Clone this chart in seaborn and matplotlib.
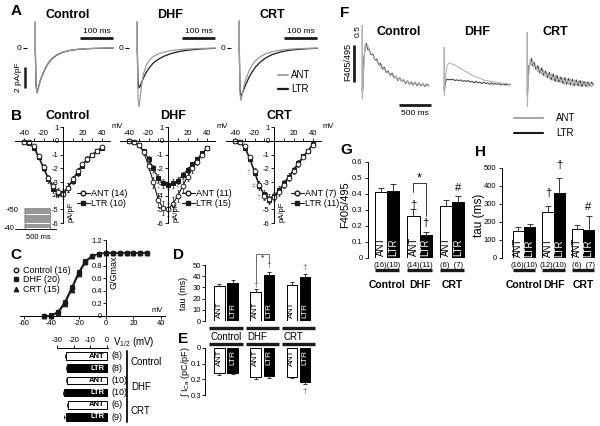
import numpy as np
import pandas as pd
import matplotlib
matplotlib.use("Agg")
import matplotlib.pyplot as plt
from matplotlib.lines import Line2D
import seaborn as sns

groups = ["Control", "DHF", "CRT"]
conds = ["ANT", "LTR"]

# ---------------- A: current traces (ms, pA/pF) ----------------
tA = [0, 0.5, 1.5, 3, 6, 10, 15, 20, 30, 40, 50, 65, 80, 100, 125, 150, 180, 210, 235]
a_ctrl_ant = [0, 2.5, -1.0, -3.6, -4.3, -3.8, -3.2, -2.7, -1.95, -1.4, -1.0, -0.65, -0.42, -0.25, -0.13, -0.07, -0.03, -0.01, 0]
a_ctrl_ltr = [0, 0, -1.0, -3.5, -4.25, -3.8, -3.2, -2.75, -2.0, -1.45, -1.05, -0.68, -0.44, -0.26, -0.14, -0.08, -0.04, -0.02, 0]
a_dhf_ant = [0, 2.5, -1.5, -4.8, -5.6, -4.6, -3.3, -2.4, -1.5, -1.05, -0.8, -0.55, -0.4, -0.27, -0.16, -0.1, -0.06, -0.03, -0.01]
a_dhf_ltr = [0, 0, -1.0, -3.2, -3.8, -3.6, -3.2, -2.8, -2.2, -1.75, -1.4, -1.05, -0.8, -0.55, -0.35, -0.22, -0.12, -0.06, -0.03]
a_crt_ant = [0, 2.6, -1.5, -4.4, -5.0, -4.4, -3.6, -3.0, -2.2, -1.6, -1.2, -0.8, -0.55, -0.35, -0.2, -0.12, -0.06, -0.03, -0.01]
a_crt_ltr = [0, 0, -1.2, -4.0, -4.6, -4.3, -3.9, -3.5, -2.8, -2.25, -1.8, -1.3, -0.95, -0.62, -0.38, -0.22, -0.12, -0.06, -0.03]

# ---------------- B: I-V curves ----------------
V = [-40, -35, -30, -25, -20, -15, -10, -5, 0, 5, 10, 15, 20, 25, 30, 35, 40]
iv_ctrl_ant = [-0.05, -0.1, -0.4, -1.1, -1.9, -2.7, -3.3, -3.7, -3.9, -3.4, -2.8, -2.2, -1.7, -1.3, -1.0, -0.7, -0.45]
iv_ctrl_ltr = [-0.05, -0.15, -0.5, -1.2, -2.0, -2.8, -3.5, -3.8, -3.8, -3.4, -2.9, -2.3, -1.8, -1.35, -1.0, -0.75, -0.5]
iv_dhf_ant = [0, -0.1, -0.3, -0.8, -1.8, -3.0, -4.3, -4.9, -5.0, -4.6, -4.0, -3.3, -2.6, -2.0, -1.5, -1.0, -0.5]
iv_dhf_ltr = [0, -0.1, -0.3, -0.7, -1.3, -2.0, -2.7, -3.1, -3.2, -3.1, -2.9, -2.5, -2.1, -1.7, -1.3, -0.9, -0.5]
iv_crt_ant = [0, -0.1, -0.4, -1.2, -2.2, -3.2, -4.0, -4.2, -4.1, -3.7, -3.2, -2.7, -2.2, -1.7, -1.2, -0.7, -0.3]
iv_crt_ltr = [0, -0.1, -0.5, -1.3, -2.3, -3.3, -3.9, -4.3, -4.0, -3.6, -3.1, -2.6, -2.1, -1.6, -1.1, -0.7, -0.2]
iv_err = [0.02, 0.05, 0.1, 0.15, 0.2, 0.25, 0.3, 0.3, 0.3, 0.3, 0.25, 0.25, 0.2, 0.2, 0.15, 0.15, 0.1]
iv_err_big = [0.02, 0.05, 0.1, 0.2, 0.3, 0.4, 0.5, 0.5, 0.5, 0.5, 0.45, 0.4, 0.35, 0.3, 0.25, 0.2, 0.15]
iv_n_ant = [14, 11, 7]
iv_n_ltr = [10, 15, 11]
protocol_steps = [-30, -20, -10, 0, 10, 20, 30, 40, 50]

# ---------------- C: activation ----------------
V_act = [-45, -40, -35, -30, -25, -20, -15, -10, -5, 0, 5, 10, 15, 20, 25, 30]
g_ctrl = [0.0, 0.0, 0.06, 0.21, 0.44, 0.68, 0.86, 0.95, 0.99, 1.0, 1.0, 1.0, 1.0, 1.0, 1.0, 1.0]
g_dhf = [0.0, 0.01, 0.07, 0.23, 0.46, 0.70, 0.88, 0.96, 0.99, 1.0, 1.0, 1.0, 1.0, 1.0, 1.0, 1.0]
g_crt = [0.0, 0.0, 0.05, 0.19, 0.42, 0.66, 0.85, 0.95, 0.99, 1.0, 1.0, 1.0, 1.0, 1.0, 1.0, 1.0]
c_labels = ["Control (16)", "DHF (20)", "CRT (15)"]
vhalf = [-24.6, -24.0, -23.8, -25.8, -23.5, -25.0]
vhalf_err = [0.7, 0.6, 0.7, 0.9, 0.6, 0.8]
vhalf_n = [8, 8, 10, 10, 6, 9]

# ---------------- D / E ----------------
tau_ant = [31, 26, 32]
tau_ltr = [34, 41, 39]
tau_ant_err = [2, 2.5, 2.5]
tau_ltr_err = [2.5, 2.5, 3]
q_ant = [0.16, 0.185, 0.183]
q_ltr = [0.157, 0.18, 0.215]
q_ant_err = [0.01, 0.01, 0.01]
q_ltr_err = [0.01, 0.01, 0.012]

# ---------------- F: Ca transients ----------------
tF = [0, 3, 6, 15, 30, 50, 70, 90, 110, 140, 170, 200, 230, 260, 290, 320, 350, 380, 410, 440,
      470, 500, 530, 560, 590, 620, 650, 680, 710, 740, 770, 800, 830, 860, 890, 920, 950, 980, 1010, 1040]
f_ctrl_ant = [0, 0.85, -0.15, 0.05, 0.35, 0.6, 0.56, 0.58, 0.5,
              0.47, 0.44, 0.38, 0.37, 0.31, 0.3, 0.25, 0.26, 0.2, 0.22,
              0.17, 0.18, 0.13, 0.16, 0.11, 0.13, 0.09, 0.12, 0.07, 0.1,
              0.06, 0.09, 0.05, 0.08, 0.04, 0.07, 0.04, 0.06, 0.03, 0.06, 0.04]
f_ctrl_ltr = [0, 0.0, -0.08, 0.02, 0.4, 0.55, 0.6, 0.52, 0.53,
              0.45, 0.46, 0.38, 0.39, 0.32, 0.33, 0.26, 0.28, 0.21, 0.23,
              0.17, 0.2, 0.14, 0.16, 0.1, 0.14, 0.09, 0.11, 0.06, 0.1,
              0.05, 0.08, 0.04, 0.08, 0.03, 0.07, 0.03, 0.06, 0.02, 0.05, 0.03]
f_dhf_ant = [0, 0.55, -0.1, 0.05, 0.2, 0.3, 0.33, 0.34, 0.33,
             0.32, 0.31, 0.29, 0.28, 0.26, 0.25, 0.23, 0.22, 0.2, 0.19,
             0.17, 0.16, 0.15, 0.14, 0.13, 0.12, 0.11, 0.1, 0.1, 0.09,
             0.09, 0.08, 0.08, 0.07, 0.07, 0.07, 0.06, 0.06, 0.06, 0.05, 0.05]
f_dhf_ltr = [0, 0, -0.05, 0.03, 0.1, 0.12, 0.11, 0.12, 0.11,
             0.12, 0.1, 0.11, 0.1, 0.11, 0.09, 0.1, 0.09, 0.1, 0.08,
             0.09, 0.07, 0.09, 0.07, 0.08, 0.06, 0.08, 0.06, 0.07, 0.05,
             0.07, 0.05, 0.06, 0.05, 0.06, 0.04, 0.06, 0.04, 0.05, 0.04, 0.05]
f_crt_ant = [0, 0.75, -0.25, 0.0, 0.25, 0.38, 0.3, 0.36, 0.28,
             0.3, 0.22, 0.27, 0.18, 0.24, 0.15, 0.2, 0.12, 0.19, 0.1,
             0.17, 0.08, 0.15, 0.07, 0.14, 0.05, 0.13, 0.05, 0.12, 0.03,
             0.11, 0.04, 0.1, 0.02, 0.1, 0.03, 0.09, 0.01, 0.08, 0.02, 0.06]
f_crt_ltr = [0, 0, -0.1, 0.05, 0.3, 0.33, 0.4, 0.3, 0.35,
             0.25, 0.3, 0.2, 0.27, 0.17, 0.23, 0.14, 0.21, 0.11, 0.19,
             0.09, 0.17, 0.08, 0.15, 0.06, 0.14, 0.05, 0.13, 0.04, 0.12,
             0.03, 0.11, 0.03, 0.1, 0.02, 0.09, 0.02, 0.08, 0.03, 0.08, 0.04]

# ---------------- G / H ----------------
amp_ant = [0.41, 0.26, 0.325]
amp_ltr = [0.42, 0.145, 0.35]
amp_ant_err = [0.03, 0.045, 0.04]
amp_ltr_err = [0.04, 0.015, 0.04]
amp_n = ["(16)(10)", "(14)(11)", "(6)  (7)"]
dec_ant = [150, 255, 160]
dec_ltr = [172, 360, 158]
dec_ant_err = [22, 35, 22]
dec_ltr_err = [15, 85, 75]
dec_n = ["(16)(10)", "(12)(10)", "(6)  (7)"]

# ================= drawing =================
sns.set_theme(style="white")
plt.rcParams["font.family"] = ["Liberation Sans", "DejaVu Sans"]
plt.rcParams["mathtext.fontset"] = "custom"
plt.rcParams["mathtext.rm"] = "Liberation Sans"
plt.rcParams["mathtext.it"] = "Liberation Sans:italic"
plt.rcParams["axes.linewidth"] = 0.7
plt.rcParams["axes.edgecolor"] = "black"
plt.rcParams["text.color"] = "black"
plt.rcParams["xtick.color"] = "black"
plt.rcParams["ytick.color"] = "black"

W, H = 600, 426
fig = plt.figure(figsize=(6, 4.26), dpi=100)
pal = {"ANT": "white", "LTR": "black"}
GRAY = "#9a9a9a"
DARK = "#1a1a1a"


def mk(L, T, R, B):
    ax = fig.add_axes([L / W, 1 - B / H, (R - L) / W, (B - T) / H])
    ax.patch.set_alpha(0)
    return ax


def lim(ax, L, T, R, B, x0, sx, y0, sy):
    ax.set_xlim((L - x0) / sx, (R - x0) / sx)
    ax.set_ylim((y0 - B) / sy, (y0 - T) / sy)


def ft(x, y, s, size=7, ha="center", va="center", **kw):
    fig.text(x / W, 1 - y / H, s, size=size, ha=ha, va=va, **kw)


def fl(xs, ys, **kw):
    fig.add_artist(Line2D([x / W for x in xs], [1 - y / H for y in ys], transform=fig.transFigure, **kw))


def clean(ax):
    ax.set_xlabel("")
    ax.set_ylabel("")


# panel letters
for s, x, y in [("A", 16, 11), ("B", 16, 116), ("C", 16, 255), ("D", 178, 255), ("E", 183, 339),
                ("F", 345, 13), ("G", 346, 150), ("H", 481, 152)]:
    ft(x, y, s, size=11, weight="bold")

# ---------------- A ----------------
A_data = [(a_ctrl_ant, a_ctrl_ltr), (a_dhf_ant, a_dhf_ltr), (a_crt_ant, a_crt_ltr)]
A_x0 = [35, 137, 239]
for k, (g, x0, (ant, ltr)) in enumerate(zip(groups, A_x0, A_data)):
    L, T, R, B = x0 - 8, 15, x0 + 80, 112
    ax = mk(L, T, R, B)
    n = len(tA)
    df = pd.DataFrame({"t": tA * 2, "I": list(ltr) + list(ant), "cond": ["LTR"] * n + ["ANT"] * n})
    sns.lineplot(data=df, x="t", y="I", hue="cond", hue_order=["LTR", "ANT"],
                 palette={"ANT": GRAY, "LTR": DARK}, lw=0.9, legend=False, ax=ax,
                 sort=False, estimator=None)
    clean(ax)
    lim(ax, L, T, R, B, x0, 0.333, 48, 10.5)
    for sp in ax.spines.values():
        sp.set_visible(False)
    ax.set_xticks([])
    ax.set_yticks([0])
    ax.set_yticklabels(["0"])
    ax.tick_params(axis="y", left=True, length=3, width=0.8, labelsize=6, pad=1)
    ax.plot([135, 235], [0.95, 0.95], color="k", lw=2, clip_on=False, solid_capstyle="butt")
    ax.text(185, 1.25, "100 ms", ha="center", va="bottom", size=6)
    ft(x0 + 33, 15, g, size=9, weight="bold")
    if k == 0:
        ax.plot([-30, -30], [-1.8, -3.8], color="k", lw=1.8, clip_on=False, solid_capstyle="butt")
        ft(19, 77, "2 pA/pF", size=6, rotation=90)
fl([278, 288], [75, 75], color=GRAY, lw=1.3)
fl([278, 288], [89, 89], color=DARK, lw=1.6)
ft(291, 75, "ANT", size=7, ha="left")
ft(291, 89, "LTR", size=7, ha="left")

# ---------------- B ----------------
B_data = [(iv_ctrl_ant, iv_ctrl_ltr, iv_err), (iv_dhf_ant, iv_dhf_ltr, iv_err_big), (iv_crt_ant, iv_crt_ltr, iv_err)]
B_x0 = [63, 168, 274]
for k, (g, x0, (ant, ltr, ea)) in enumerate(zip(groups, B_x0, B_data)):
    L, T, R, B = x0 - 48, 122, x0 + 47, 228
    ax = mk(L, T, R, B)
    ax.errorbar(V, ant, yerr=ea, fmt="none", ecolor="k", elinewidth=0.5, capsize=1, capthick=0.5)
    ax.errorbar(V, ltr, yerr=iv_err, fmt="none", ecolor="k", elinewidth=0.5, capsize=1, capthick=0.5)
    sns.lineplot(x=V, y=ltr, marker="s", color="k", markerfacecolor="k", markeredgecolor="k",
                 markersize=3.2, lw=0.8, ax=ax, estimator=None, sort=False)
    sns.lineplot(x=V, y=ant, marker="o", color="k", markerfacecolor="white", markeredgecolor="k",
                 markeredgewidth=0.7, markersize=3.4, lw=0.8, ax=ax, estimator=None, sort=False)
    clean(ax)
    lim(ax, L, T, R, B, x0, 0.975, 141, 13.7)
    ax.spines["top"].set_position(("data", 0))
    ax.spines["left"].set_position(("data", 0))
    ax.spines["bottom"].set_visible(False)
    ax.spines["right"].set_visible(False)
    ax.spines["left"].set_bounds(-6, 1)
    ax.xaxis.set_ticks_position("top")
    ax.set_xticks([-40, -30, -20, -10, 10, 20, 30, 40])
    ax.set_xticklabels(["-40", "", "-20", "", "", "20", "", "40"])
    ax.set_yticks([1, 0, -1, -2, -3, -4, -5, -6])
    ax.set_yticklabels(["1", "0", "-1", "-2", "-3", "-4", "-5", "-6"])
    ax.tick_params(length=2, width=0.6, labelsize=5.5, pad=1)
    ax.tick_params(axis="x", top=True, bottom=False)
    ax.tick_params(axis="y", left=True)
    ft(x0 + 49, 127, "mV", size=5.5, ha="left")
    ft(x0 + 8, 212, "pA/pF", size=5.5, rotation=90)
    ft(x0 + 5, 116, g, size=9, weight="bold")
    hs = [Line2D([], [], marker="o", color="k", markerfacecolor="white", markersize=3.4, lw=0.8),
          Line2D([], [], marker="s", color="k", markersize=3.2, lw=0.8)]
    ax.legend(hs, [f"ANT ({iv_n_ant[k]})", f"LTR ({iv_n_ltr[k]})"], loc="upper left",
              bbox_to_anchor=((x0 + 14 + (3 if k == 2 else 0)) / W, 1 - 189 / H),
              bbox_transform=fig.transFigure, frameon=False, fontsize=6.5, handlelength=1.4,
              handletextpad=0.2, labelspacing=0.1, borderpad=0, borderaxespad=0)
    if k == 1:
        for i in [4, 5, 6, 10, 11]:
            ax.text(V[i], (ant[i] + ltr[i]) / 2, "*", color="#888888", size=6, ha="center", va="center")
    if k == 2:
        for i in [4, 5, 6]:
            ax.text(V[i] - 6, ant[i] - 0.1, "\u2020" if i % 2 == 0 else "#", color="#888888", size=5, ha="center", va="center")

# protocol inset
axp = mk(15, 205, 57, 232)
for s in protocol_steps:
    axp.plot([0, 500], [s, s], color="#8c8c8c", lw=1.3)
axp.plot([0, 0], [-40, 50], color="#8c8c8c", lw=0.8)
axp.plot([500, 500], [-40, 50], color="#8c8c8c", lw=0.8)
axp.plot([-200, 640], [-40, -40], color="k", lw=0.7)
lim(axp, 15, 205, 57, 232, 25, 0.05, 220.1, 0.222)
axp.axis("off")
ft(12, 210, "+50", size=5.5)
ft(9, 229, "-40", size=5.5)
ft(38, 237, "500 ms", size=5.5)

# ---------------- C ----------------
L, T, R, B = 20, 232, 165, 320
axc = mk(L, T, R, B)
for gv, mkr, mfc, ms in [(g_ctrl, "o", "white", 3.4), (g_dhf, "s", "k", 3.0), (g_crt, "^", "k", 3.4)]:
    sns.lineplot(x=V_act, y=gv, marker=mkr, color="k", markerfacecolor=mfc, markeredgecolor="k",
                 markeredgewidth=0.7, markersize=ms, lw=0.8, ax=axc, estimator=None, sort=False)
clean(axc)
lim(axc, L, T, R, B, 106, 1.37, 316, 63)
for line in axc.lines:
    line.set_clip_on(False)
axc.spines["bottom"].set_position(("data", 0))
axc.spines["left"].set_position(("data", 0))
axc.spines["top"].set_visible(False)
axc.spines["right"].set_visible(False)
axc.spines["left"].set_bounds(0, 1.2)
axc.set_xticks([-60, -40, -20, 0, 20, 40])
axc.set_xticklabels(["-60", "-40", "-20", "0", "20", "40"])
axc.set_yticks([0, 0.2, 0.4, 0.6, 0.8, 1.0, 1.2])
axc.set_yticklabels(["0", "0.2", "0.4", "0.6", "0.8", "", "1.2"])
axc.tick_params(length=2, width=0.6, labelsize=5.5, pad=1)
axc.tick_params(axis="x", bottom=True)
axc.tick_params(axis="y", left=True)
ft(157, 311, "mV", size=5.5)
ft(114, 272, "G/Gmax", size=6.5, rotation=90)
hc = [Line2D([], [], marker="o", color="k", markerfacecolor="white", markersize=3.2, lw=0),
      Line2D([], [], marker="s", color="k", markersize=3.0, lw=0),
      Line2D([], [], marker="^", color="k", markersize=3.2, lw=0)]
axc.legend(hc, c_labels, loc="upper left", bbox_to_anchor=(12 / W, 1 - 266 / H),
           bbox_transform=fig.transFigure, frameon=False, fontsize=6.5, handlelength=0.8,
           handletextpad=0.4, labelspacing=0.05, borderpad=0, borderaxespad=0)

# V1/2 bars
rows = [f"{g} {c}" for g in groups for c in conds]
row_cond = [c for g in groups for c in conds]
L, T, R, B = 57, 348, 108, 423
axv = mk(L, T, R, B)
dfv = pd.DataFrame({"row": rows, "val": vhalf, "cond": row_cond})
sns.barplot(data=dfv, x="val", y="row", hue="cond", order=rows, hue_order=conds, palette=pal,
            dodge=False, orient="h", edgecolor="black", linewidth=0.7, width=0.62,
            errorbar=None, legend=False, ax=axv)
axv.errorbar(vhalf, range(6), xerr=[vhalf_err, [0] * 6], fmt="none", ecolor="k",
             elinewidth=0.6, capsize=1.5, capthick=0.6)
clean(axv)
lim(axv, L, T, R, B, 106.5, 1.64, 356, -12.2)
for sp in ["bottom", "left", "right"]:
    axv.spines[sp].set_visible(False)
axv.xaxis.set_ticks_position("top")
axv.set_xticks([-30, -20, -10, 0])
axv.set_xticklabels(["-30", "-20", "-10", "0"])
axv.set_yticks([])
axv.tick_params(axis="x", top=True, length=2, width=0.6, labelsize=5.5, pad=1)
for i, (c, n) in enumerate(zip(row_cond, vhalf_n)):
    axv.text(-1.2, i, c, ha="right", va="center", size=5.5, weight="bold",
             color="black" if c == "ANT" else "white")
    axv.text(3.3, i, f"({n})", ha="left", va="center", size=6.5)
for k, g in enumerate(groups):
    axv.plot([12.5, 12.5], [2 * k - 0.45, 2 * k + 1.45], color="k", lw=1.4, clip_on=False)
    axv.text(14.8, 2 * k + 0.5, g, ha="left", va="center", size=7)
ft(113, 342, r"V$_{1/2}$ (mV)", size=7, ha="left")


# ---------------- bar helpers ----------------
def bar_df(ant, ltr):
    return pd.DataFrame({"group": groups * 2, "cond": ["ANT"] * 3 + ["LTR"] * 3, "val": list(ant) + list(ltr)})


def draw_bars(ax, ant, ltr, ea, el, width, gap, off, cap):
    sns.barplot(data=bar_df(ant, ltr), x="group", y="val", hue="cond", order=groups, hue_order=conds,
                palette=pal, edgecolor="black", linewidth=0.7, width=width, gap=gap,
                errorbar=None, legend=False, ax=ax)
    xs = [i - off for i in range(3)] + [i + off for i in range(3)]
    ys = list(ant) + list(ltr)
    es = list(ea) + list(el)
    ax.errorbar(xs, ys, yerr=[[0] * 6, es], fmt="none", ecolor="k", elinewidth=0.6,
                capsize=cap, capthick=0.6)
    clean(ax)
    ax.set_xticks([])
    return xs


# ---------------- D ----------------
L, T, R, B = 205, 262, 318, 321
axd = mk(L, T, R, B)
xs = draw_bars(axd, tau_ant, tau_ltr, tau_ant_err, tau_ltr_err, 0.72, 0.2, 0.18, 1.5)
lim(axd, L, T, R, B, 226, 36.2, 321, 1.12)
for sp in ["bottom", "top", "right"]:
    axd.spines[sp].set_visible(False)
axd.spines["left"].set_bounds(0, 50)
axd.set_yticks([0, 10, 20, 30, 40, 50])
axd.tick_params(axis="y", left=True, length=2, width=0.6, labelsize=5.5, pad=1)
for i in range(3):
    axd.text(i - 0.18, 3, "ANT", rotation=90, ha="center", va="bottom", size=6)
    axd.text(i + 0.18, 3, "LTR", rotation=90, ha="center", va="bottom", size=6, color="white")
    axd.plot([i - 0.46, i + 0.46], [-6.3, -6.3], color="k", lw=2.4, clip_on=False, solid_capstyle="butt")
    axd.plot([i - 0.46, i + 0.46], [-20.5, -20.5], color="k", lw=2.4, clip_on=False, solid_capstyle="butt")
    axd.text(i - 0.42, -14, groups[i], ha="left", va="center", size=7)
axd.text(1 - 0.18, tau_ant[1] + tau_ant_err[1] + 3, "\u2020", ha="center", va="center", size=6, color="#555555")
axd.text(1 + 0.18, tau_ltr[1] + tau_ltr_err[1] + 6, "\u2020", ha="center", va="center", size=6, color="#555555")
axd.text(2 + 0.18, tau_ltr[2] + tau_ltr_err[2] + 6, "\u2020", ha="center", va="center", size=6, color="#555555")
axd.plot([1 - 0.18, 1 - 0.18, 1 + 0.18, 1 + 0.18], [35, 60, 60, 52], color="#555555", lw=0.6, clip_on=False)
axd.text(1, 56, "*", ha="center", va="center", size=6)
ft(183, 293, "tau (ms)", size=6.5, rotation=90)

# ---------------- E ----------------
L, T, R, B = 205, 348, 318, 396
axe = mk(L, T, R, B)
draw_bars(axe, q_ant, q_ltr, q_ant_err, q_ltr_err, 0.72, 0.2, 0.18, 1.5)
lim(axe, L, T, R, B, 226, 36.2, 348, -157)
for sp in ["bottom", "top", "right"]:
    axe.spines[sp].set_visible(False)
axe.spines["left"].set_bounds(0, 0.3)
axe.set_yticks([0, 0.1, 0.2, 0.3])
axe.set_yticklabels(["0", "0.1", "0.2", "0.3"])
axe.tick_params(axis="y", left=True, length=2, width=0.6, labelsize=5.5, pad=1)
for i in range(3):
    axe.text(i - 0.18, 0.01, "ANT", rotation=90, ha="center", va="top", size=6)
    axe.text(i + 0.18, 0.01, "LTR", rotation=90, ha="center", va="top", size=6, color="white")
axe.text(2 + 0.18, q_ltr[2] + q_ltr_err[2] + 0.05, "\u2020", ha="center", va="center", size=6, color="#555555")
ft(185, 372, r"$\int$ I$_{\rm Ca}$ (pC/pF)", size=6.5, rotation=90)

# ---------------- F ----------------
F_data = [(f_ctrl_ant, f_ctrl_ltr), (f_dhf_ant, f_dhf_ltr), (f_crt_ant, f_crt_ltr)]
F_x0 = [362, 444, 527]
for k, (g, x0, (ant, ltr)) in enumerate(zip(groups, F_x0, F_data)):
    L, T, R, B = x0 - 4, 20, x0 + 72, 112
    ax = mk(L, T, R, B)
    n = len(tF)
    df = pd.DataFrame({"t": tF * 2, "F": list(ltr) + list(ant), "cond": ["LTR"] * n + ["ANT"] * n})
    sns.lineplot(data=df, x="t", y="F", hue="cond", hue_order=["LTR", "ANT"],
                 palette={"ANT": "#b0b0b0", "LTR": "#404040"}, lw=0.75, legend=False, ax=ax,
                 sort=False, estimator=None)
    clean(ax)
    lim(ax, L, T, R, B, x0, 0.064, 88, 74)
    ax.axis("off")
    ft([399, 477, 555][k], 32, g, size=9, weight="bold")
    if k == 0:
        ax.plot([-125, -125], [0.08, 0.58], color="k", lw=2, clip_on=False, solid_capstyle="butt")
        ax.plot([578, 1078], [-0.23, -0.23], color="k", lw=2, clip_on=False, solid_capstyle="butt")
        ax.text(828, -0.34, "500 ms", ha="center", va="center", size=6)
ft(358, 31, "0.5", size=6, rotation=90)
ft(348, 62, "F405/495", size=6.5, rotation=90)
fl([514, 543], [118, 118], color="#a8a8a8", lw=1.5)
fl([514, 543], [133, 133], color="#1a1a1a", lw=1.5)
ft(556, 118, "ANT", size=7, ha="left")
ft(556, 133, "LTR", size=7, ha="left")

# ---------------- G ----------------
L, T, R, B = 368, 158, 470, 258
axg = mk(L, T, R, B)
draw_bars(axg, amp_ant, amp_ltr, amp_ant_err, amp_ltr_err, 0.74, 0, 0.185, 2)
lim(axg, L, T, R, B, 387, 32.5, 258, 160)
for sp in ["bottom", "top", "right"]:
    axg.spines[sp].set_visible(False)
axg.spines["left"].set_bounds(0, 0.6)
axg.set_yticks([0, 0.1, 0.2, 0.3, 0.4, 0.5, 0.6])
axg.set_yticklabels(["0", "0.1", "0.2", "0.3", "0.4", "0.5", "0.6"])
axg.tick_params(axis="y", left=True, length=2, width=0.6, labelsize=5.5, pad=2)
for i in range(3):
    axg.text(i - 0.185, 0.015, "ANT", rotation=90, ha="center", va="bottom", size=7)
    axg.text(i + 0.185, 0.015, "LTR", rotation=90, ha="center", va="bottom", size=7, color="white")
    axg.text(i, -0.045, amp_n[i], ha="center", va="center", size=5.5)
    axg.plot([i - 0.38, i + 0.38], [-0.077, -0.077], color="k", lw=2.4, clip_on=False, solid_capstyle="butt")
    axg.text(i, -0.168, groups[i], ha="center", va="center", size=7.5, weight="bold")
axg.text(1 - 0.185, 0.33, "\u2020", ha="center", va="center", size=8)
axg.text(1 + 0.185, 0.22, "\u2020", ha="center", va="center", size=8)
axg.text(2 + 0.185, 0.44, "#", ha="center", va="center", size=8)
axg.plot([1 - 0.185, 1 - 0.185, 1 + 0.185, 1 + 0.185], [0.41, 0.47, 0.47, 0.26], color="k", lw=0.6, clip_on=False)
axg.text(1, 0.495, "*", ha="center", va="center", size=9)
ft(345, 205, "F405/495", size=8, rotation=90)

# ---------------- H ----------------
L, T, R, B = 502, 160, 598, 258
axh = mk(L, T, R, B)
draw_bars(axh, dec_ant, dec_ltr, dec_ant_err, dec_ltr_err, 0.75, 0, 0.1875, 2)
lim(axh, L, T, R, B, 524, 29.5, 258, 0.18)
for sp in ["bottom", "top", "right"]:
    axh.spines[sp].set_visible(False)
axh.spines["left"].set_bounds(0, 500)
axh.set_yticks([0, 100, 200, 300, 400, 500])
axh.tick_params(axis="y", left=True, length=2, width=0.6, labelsize=5.5, pad=2)
for i in range(3):
    axh.text(i - 0.1875, 8, "ANT", rotation=90, ha="center", va="bottom", size=7)
    axh.text(i + 0.1875, 8, "LTR", rotation=90, ha="center", va="bottom", size=7, color="white")
    axh.text(i, -39, dec_n[i], ha="center", va="center", size=5.5)
    axh.plot([i - 0.38, i + 0.38], [-67, -67], color="k", lw=2.4, clip_on=False, solid_capstyle="butt")
    axh.text(i, -150, groups[i], ha="center", va="center", size=7.5, weight="bold")
axh.text(1 - 0.1875, 361, "\u2020", ha="center", va="center", size=8)
axh.text(1 + 0.1875, 517, "\u2020", ha="center", va="center", size=8)
axh.text(2 + 0.1875, 283, "#", ha="center", va="center", size=8)
ft(479, 215, "tau (ms)", size=8.5, rotation=90)

fig.savefig("out.png", dpi=100)
